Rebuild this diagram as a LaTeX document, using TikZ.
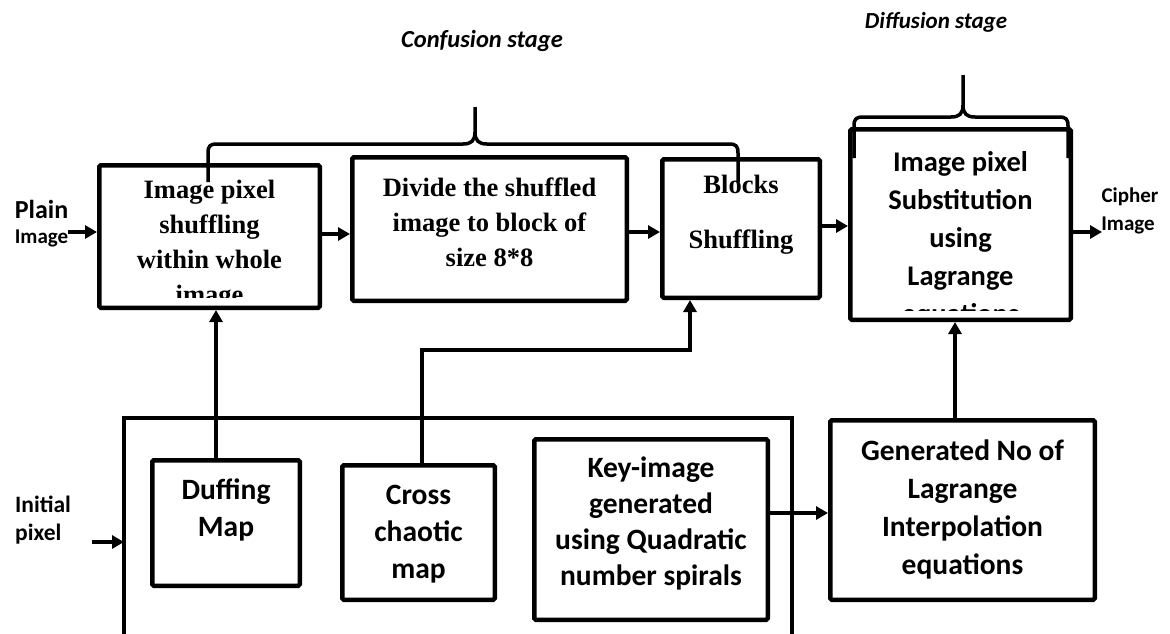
\documentclass[tikz,border=0pt]{standalone}
\usepackage{fontspec}
\setmainfont{Liberation Serif}
\newfontfamily\cali{Carlito}
\usetikzlibrary{arrows.meta}

\begin{document}
\begin{tikzpicture}[x=1pt,y=-1pt,
  blk/.style={draw, line width=4.5pt, rounded corners=1.5pt, inner sep=0pt},
  conn/.style={line width=3.5pt},
  arr/.style={conn, -{Triangle[length=12pt,width=13pt]}},
  serifbox/.style={align=center, font=\fontsize{26.5}{35}\selectfont\bfseries},
  sansbox/.style={align=center, font=\cali\fontsize{29.5}{38}\selectfont\bfseries},
  lbl/.style={inner sep=0pt, font=\cali\bfseries},
  stage/.style={inner sep=0pt, anchor=base, font=\cali\fontsize{23}{27}\selectfont\bfseries\itshape}
]
\fill[white] (0,0) rectangle (1170,633);
\useasboundingbox (0,0) rectangle (1170,633);

% upper row: confusion and diffusion blocks
\node[blk, minimum width=220.5pt, minimum height=142.5pt] (b1) at (209.5,236.5) {};
\node[blk, minimum width=274.5pt, minimum height=143.5pt] (b2) at (489.5,229) {};
\node[blk, minimum width=157.5pt, minimum height=138.5pt] (b3) at (741,228.5) {};
\node[blk, minimum width=220.5pt, minimum height=190.5pt] (b4) at (960.5,224.5) {};

\begin{scope}
  \clip (97,165) rectangle (322,297);
  \node[serifbox] (t1) at (209.5,244.5) {Image pixel\\shuffling\\within whole\\image};
\end{scope}
\node[serifbox] (t2) at (489.5,222) {Divide the shuffled\\image to block of\\size 8*8};
\node[serifbox, anchor=base] (t3a) at (741,193) {Blocks};
\node[serifbox, anchor=base] (t3b) at (741,248) {Shuffling};
\begin{scope}
  \clip (848,130) rectangle (1073,310);
  \node[sansbox, font=\cali\fontsize{28.5}{38}\selectfont\bfseries] (t4) at (960.5,240) {Image pixel\\Substitution\\using\\Lagrange\\equations};
\end{scope}

% key generation frame (open at the bottom)
\coordinate (fL) at (124,418);
\coordinate (fR) at (792,418);
\draw[conn] (124,640) -- (fL) -- (fR) -- (792,640);

% lower row
\node[blk, minimum width=147.5pt, minimum height=125.5pt] (duf) at (226,523) {};
\node[blk, minimum width=152.5pt, minimum height=134.5pt] (cro) at (418.5,532.5) {};
\node[blk, minimum width=233.5pt, minimum height=180.5pt] (key) at (651,529.5) {};
\node[blk, minimum width=264.5pt, minimum height=179.5pt] (gen) at (962.5,510) {};

\node[sansbox, font=\cali\fontsize{29.5}{37}\selectfont\bfseries] (tduf) at (226,510) {Duffing\\Map};
\node[sansbox, font=\cali\fontsize{29.5}{37}\selectfont\bfseries] (tcro) at (418.5,534) {Cross\\chaotic\\map};
\node[sansbox, font=\cali\fontsize{29.5}{36}\selectfont\bfseries] (tkey) at (651,523) {Key-image\\generated\\using Quadratic\\number spirals};
\node[sansbox] (tgen) at (962.5,509) {Generated No of\\Lagrange\\Interpolation\\equations};

% outside labels
\node[lbl, anchor=base, font=\cali\fontsize{26}{30}\selectfont\bfseries] (plain) at (41.5,218) {Plain};
\node[lbl, anchor=base, font=\cali\fontsize{21}{25}\selectfont\bfseries] (plainimg) at (41.5,243) {Image};
\node[lbl, anchor=base, font=\cali\fontsize{21}{25}\selectfont\bfseries] (cipher) at (1130,202) {Cipher};
\node[lbl, anchor=base, font=\cali\fontsize{21}{25}\selectfont\bfseries] (cipherimg) at (1128,230) {Image};
\node[lbl, anchor=base west, font=\cali\fontsize{23.5}{27}\selectfont\bfseries] (init) at (15,512) {Initial};
\node[lbl, anchor=base west, font=\cali\fontsize{23.5}{27}\selectfont\bfseries] (initpx) at (15,540) {pixel};

\node[stage, font=\cali\fontsize{24.5}{28}\selectfont\bfseries\itshape] (conf) at (482,47) {Confusion stage};
\node[stage] (diff) at (936,28) {Diffusion stage};

% stage braces
\draw[conn, line join=round]
  (208,182) -- (208,153) .. controls (208,146) and (210,144) .. (217,144)
  -- (463,144) .. controls (471,144) and (475,141) .. (475,132) -- (475,107)
  (475,132) .. controls (475,141) and (479,144) .. (487,144)
  -- (729,144) .. controls (736,144) and (738,146) .. (738,153) -- (738,182);
\draw[conn, line join=round]
  (854,158) -- (854,126) .. controls (854,119) and (856,117) .. (863,117)
  -- (951,117) .. controls (959,117) and (963,114) .. (963,105) -- (963,75)
  (963,105) .. controls (963,114) and (967,117) .. (975,117)
  -- (1059,117) .. controls (1066,117) and (1068,119) .. (1068,126) -- (1068,158);

% data flow
\coordinate (pin) at (68,232);
\coordinate (cout) at (1102,232);
\coordinate (ipin) at (92,542);
\draw[arr] (pin) -- (pin -| b1.west);
\draw[arr] (b1.east |- 0,234) -- (b2.west |- 0,234);
\draw[arr] (b2.east |- 0,232) -- (b3.west |- 0,232);
\draw[arr] (b3.east |- 0,226) -- (b4.west |- 0,226);
\draw[arr] (b4.east |- cout) -- (cout);
\draw[arr] (ipin) -- (ipin -| fL);
\draw[arr] (key.east |- 0,513) -- (gen.west |- 0,513);
\draw[arr] (duf.north -| 216,0) -- (b1.south -| 216,0);
\draw[arr] (gen.north -| 955,0) -- (b4.south -| 955,0);
\draw[arr] (cro.north -| 422,0) -- (422,350) -- (690,350) -- (b3.south -| 690,0);
\end{tikzpicture}
\end{document}
